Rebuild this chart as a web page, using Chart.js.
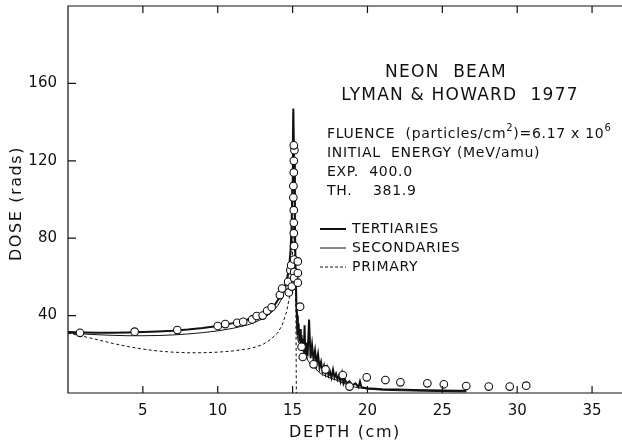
<!DOCTYPE html>
<html>
<head>
<meta charset="utf-8">
<script src="https://cdn.jsdelivr.net/npm/chart.js@4"></script>
<style>
html, body { margin: 0; padding: 0; background: #fff; }
</style>
</head>
<body>
<canvas id="dose-chart" width="622" height="445"></canvas>
<script>
// Dosis en profundidad, haz de neón
const xTicks = [5, 10, 15, 20, 25, 30, 35];
const yTicks = [40, 80, 120, 160];

const terciarios = [
    [0, 31.5], [1, 31.3], [2, 31.2], [3, 31.2], [4, 31.3], [5, 31.5], [6, 31.8], [7, 32.2],
    [8, 32.8], [9, 33.6], [10, 34.6], [10.5, 35.3], [11, 36.1], [11.5, 37], [12, 38], [12.5, 39.3],
    [13, 41], [13.5, 43.5], [13.8, 45.5], [14.1, 49], [14.4, 53.5], [14.6, 58], [14.75, 64],
    [14.85, 72], [14.93, 85], [14.98, 105], [15.02, 130], [15.05, 147], [15.1, 118], [15.15, 90],
    [15.2, 65], [15.25, 48], [15.3, 40], [15.35, 30], [15.4, 36], [15.45, 27], [15.5, 33],
    [15.55, 24], [15.6, 30], [15.65, 22], [15.7, 28], [15.75, 21], [15.8, 35], [15.85, 20],
    [15.9, 26], [16.0, 19], [16.1, 38], [16.2, 18], [16.3, 25], [16.4, 17], [16.5, 22], [16.6, 15],
    [16.7, 20], [16.8, 13], [16.9, 16], [17.0, 11], [17.1, 14], [17.2, 10], [17.3, 13], [17.4, 9],
    [17.5, 11], [17.6, 8], [17.7, 12], [17.8, 8], [17.9, 10], [18.0, 7], [18.1, 9], [18.2, 6],
    [18.3, 10], [18.4, 5], [18.5, 7], [18.6, 5], [18.8, 6], [19.0, 4], [19.2, 5], [19.4, 3],
    [19.5, 6], [19.6, 3], [20, 2.5], [21, 2], [22, 1.8], [23, 1.6], [24, 1.4], [25, 1.3],
    [26, 1.2], [26.6, 1.1]
];

const secundarios = [
    [0, 31], [1, 30.5], [2, 30.1], [3, 29.8], [4, 29.6], [5, 29.6], [6, 29.7], [7, 30],
    [8, 30.5], [9, 31.2], [10, 32.1], [11, 33.4], [12, 35.2], [12.5, 36.6], [13, 38.4],
    [13.5, 41], [14, 45], [14.3, 49], [14.6, 56], [14.8, 65], [14.9, 75], [14.96, 95],
    [15.01, 125], [15.05, 145], [15.1, 115], [15.15, 85], [15.2, 60], [15.25, 40], [15.3, 30],
    [15.4, 26], [15.5, 28], [15.6, 22], [15.7, 24], [15.8, 19], [15.9, 21], [16.0, 17],
    [16.2, 15], [16.4, 13.5], [16.6, 12], [16.8, 10.5], [17, 9.5], [17.3, 8.5], [17.6, 7.5],
    [18, 6.5], [18.4, 5], [18.8, 4], [19.2, 3], [19.6, 2.5], [20, 2], [21, 1.5], [22, 1.2],
    [24, 0.9], [26.6, 0.6]
];

const primarios = [
    [0, 31], [1, 29.3], [2, 27.5], [3, 25.6], [4, 24], [5, 22.7], [6, 21.7], [7, 21.1],
    [8, 20.8], [9, 20.8], [10, 21.1], [11, 21.7], [12, 22.8], [12.5, 23.7], [13, 25],
    [13.5, 27.5], [14, 31], [14.3, 35], [14.6, 42], [14.8, 50], [14.95, 58], [15.05, 90],
    [15.15, 70], [15.22, 45], [15.25, 0]
];

const medidos = [
    [0.8, 31.1], [4.45, 31.7], [7.3, 32.5], [10.0, 34.6], [10.5, 35.6], [11.3, 36.3],
    [11.7, 36.8], [12.3, 38], [12.6, 39.8], [13.0, 40], [13.3, 42.5], [13.6, 44.3],
    [14.15, 50.6], [14.3, 54], [14.7, 57.5], [14.75, 52], [14.85, 63.5], [14.9, 66],
    [14.95, 55], [15.1, 62.5], [15.1, 59.4], [15.1, 69], [15.1, 76], [15.08, 82.6],
    [15.08, 88], [15.08, 94.5], [15.05, 101], [15.05, 107], [15.08, 114], [15.08, 120],
    [15.12, 125.5], [15.08, 128], [15.35, 68], [15.35, 62], [15.35, 57], [15.5, 44.6],
    [15.6, 23.9], [15.68, 18.6], [16.4, 14.8], [17.2, 12.2], [18.35, 9.3], [18.8, 3.3],
    [19.95, 8.1], [21.2, 6.7], [22.2, 5.5], [24.0, 5.0], [25.1, 4.5], [26.6, 3.6],
    [28.1, 3.3], [29.5, 3.3], [30.6, 3.8]
];

const FUENTE = "'DejaVu Sans', sans-serif";
const toXY = arr => arr.map(p => ({ x: p[0], y: p[1] }));

// Texto con espaciado entre letras
function texto(ctx, t, x, y, font, spacing) {
    ctx.font = font;
    ctx.letterSpacing = spacing + 'px';
    ctx.fillText(t, x, y);
    const w = ctx.measureText(t).width;
    ctx.letterSpacing = '0px';
    return w;
}

// Marco, marcas hacia adentro, títulos de ejes y bloque de textos
const marcoPlugin = {
    id: 'marco',
    afterDatasetsDraw(chart) {
        const { ctx, chartArea: a, scales } = chart;
        ctx.save();
        ctx.strokeStyle = '#111';
        ctx.lineWidth = 1.2;
        ctx.beginPath();
        ctx.moveTo(a.right, a.top);
        ctx.lineTo(a.left, a.top);
        ctx.lineTo(a.left, a.bottom);
        ctx.lineTo(a.right, a.bottom);
        ctx.stroke();
        ctx.beginPath();
        xTicks.forEach(v => {
            const px = scales.x.getPixelForValue(v);
            ctx.moveTo(px, a.bottom);
            ctx.lineTo(px, a.bottom - 7);
            ctx.moveTo(px, a.top);
            ctx.lineTo(px, a.top + 7);
        });
        yTicks.forEach(v => {
            const py = scales.y.getPixelForValue(v);
            ctx.moveTo(a.left, py);
            ctx.lineTo(a.left + 8, py);
        });
        ctx.stroke();

        ctx.fillStyle = '#111';
        ctx.textBaseline = 'middle';
        ctx.textAlign = 'center';

        // títulos de ejes
        texto(ctx, 'DEPTH (cm)', (a.left + a.right) / 2, 433, '16px ' + FUENTE, 1.6);
        ctx.save();
        ctx.translate(17, (a.top + a.bottom) / 2 + 4);
        ctx.rotate(-Math.PI / 2);
        texto(ctx, 'DOSE (rads)', 0, 0, '16px ' + FUENTE, 1.6);
        ctx.restore();

        texto(ctx, 'NEON  BEAM', 446, 73, '17px ' + FUENTE, 1.3);
        texto(ctx, 'LYMAN & HOWARD  1977', 460, 96, '17px ' + FUENTE, 1.2);

        ctx.textAlign = 'left';
        const f = '14px ' + FUENTE;
        const sup = '10px ' + FUENTE;
        let x = 327;
        const partes = [['FLUENCE  (particles/cm', f, 0], ['2', sup, -6], [')=6.17 x 10', f, 0], ['6', sup, -6]];
        partes.forEach(([t, font, dy]) => {
            x += texto(ctx, t, x, 134 + dy, font, 0.7);
        });
        texto(ctx, 'INITIAL  ENERGY (MeV/amu)', 327, 153, f, 0.7);
        texto(ctx, 'EXP.  400.0', 327, 172, f, 0.7);
        texto(ctx, 'TH.    381.9', 327, 191, f, 0.7);

        // Leyenda
        const items = [['TERTIARIES', 2, []], ['SECONDARIES', 1, []], ['PRIMARY', 1, [3, 2]]];
        items.forEach(([t, w, dash], i) => {
            const y = 229 + i * 19;
            ctx.lineWidth = w;
            ctx.setLineDash(dash);
            ctx.beginPath();
            ctx.moveTo(320, y);
            ctx.lineTo(346, y);
            ctx.stroke();
            ctx.setLineDash([]);
            texto(ctx, t, 352, y, f, 0.7);
        });
        ctx.restore();
    }
};

const linea = (label, data, width, dash) => ({
    label,
    data: toXY(data),
    showLine: true,
    borderColor: '#111',
    borderWidth: width,
    borderDash: dash,
    pointRadius: 0,
    tension: 0,
    fill: false
});

new Chart(document.getElementById('dose-chart').getContext('2d'), {
    type: 'scatter',
    data: {
        datasets: [
            {
                label: 'EXP',
                data: toXY(medidos),
                pointRadius: 3.8,
                pointBorderWidth: 1.1,
                pointBackgroundColor: '#fff',
                pointBorderColor: '#111',
                showLine: false
            },
            linea('TERTIARIES', terciarios, 2, []),
            linea('SECONDARIES', secundarios, 1, []),
            linea('PRIMARY', primarios, 1, [3, 2.5])
        ]
    },
    options: {
        responsive: false,
        animation: false,
        layout: { autoPadding: false, padding: { top: 6, right: 0, left: 0, bottom: 0 } },
        plugins: { legend: { display: false }, tooltip: { enabled: false } },
        scales: {
            x: {
                type: 'linear',
                min: 0,
                max: 37,
                afterBuildTicks: s => { s.ticks = xTicks.map(v => ({ value: v })); },
                afterFit: s => { s.height = 52; s.paddingLeft = 0; s.paddingRight = 0; },
                grid: { display: false, drawTicks: false },
                border: { display: false },
                ticks: { color: '#111', padding: 9, font: { family: FUENTE, size: 15 }, maxRotation: 0 }
            },
            y: {
                min: 0,
                max: 200,
                afterBuildTicks: s => { s.ticks = yTicks.map(v => ({ value: v })); },
                afterFit: s => { s.width = 68; s.paddingTop = 0; s.paddingBottom = 0; },
                grid: { display: false, drawTicks: false },
                border: { display: false },
                ticks: { color: '#111', padding: 11, font: { family: FUENTE, size: 15 } }
            }
        }
    },
    plugins: [marcoPlugin]
});
</script>
</body>
</html>
